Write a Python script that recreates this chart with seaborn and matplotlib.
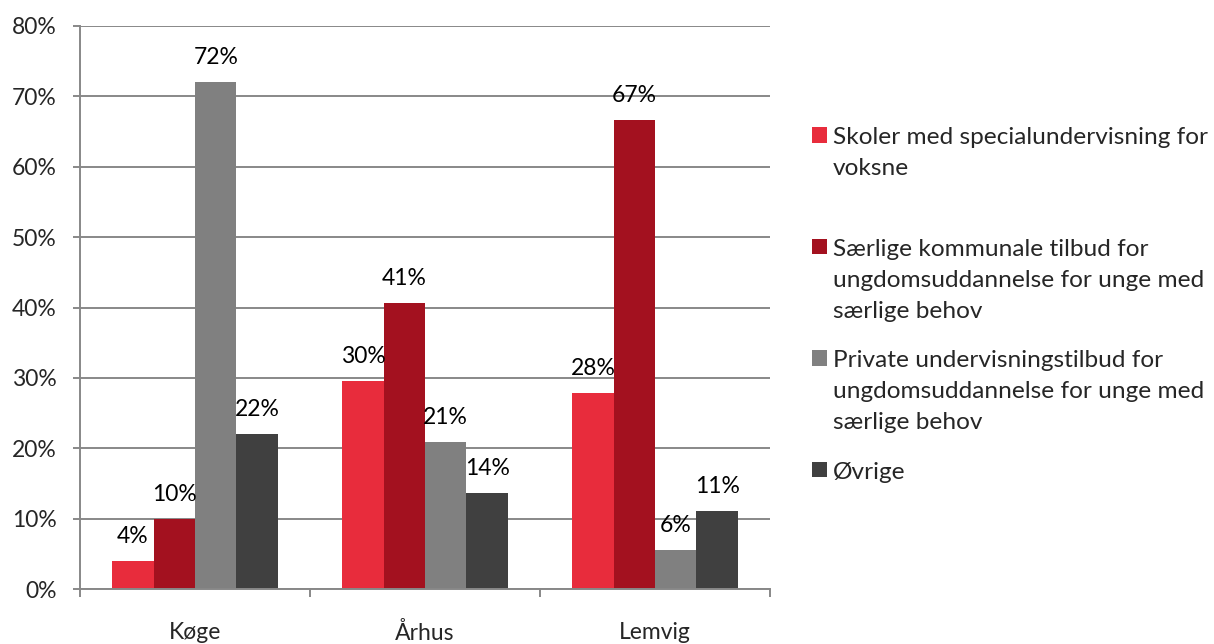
import matplotlib
matplotlib.use("Agg")
import matplotlib.pyplot as plt
import seaborn as sns
import pandas as pd
from matplotlib.patches import Patch

categories = ["Køge", "Århus", "Lemvig"]
series = [
    "Skoler med specialundervisning for voksne",
    "Særlige kommunale tilbud for ungdomsuddannelse for unge med særlige behov",
    "Private undervisningstilbud for ungdomsuddannelse for unge med særlige behov",
    "Øvrige",
]
legend_labels = [
    "Skoler med specialundervisning for\nvoksne\n ",
    "Særlige kommunale tilbud for\nungdomsuddannelse for unge med\nsærlige behov",
    "Private undervisningstilbud for\nungdomsuddannelse for unge med\nsærlige behov",
    "Øvrige",
]
skoler = [4.0, 29.6, 27.8]
kommunale = [10.0, 40.7, 66.7]
private = [72.0, 20.9, 5.6]
oevrige = [22.0, 13.6, 11.1]
colors = ["#E82C3C", "#A3111F", "#808080", "#404040"]
yticks = [0, 10, 20, 30, 40, 50, 60, 70, 80]

values = [skoler, kommunale, private, oevrige]
rows = []
for s, vals in zip(series, values):
    for c, v in zip(categories, vals):
        rows.append({"Kommune": c, "Tilbud": s, "Andel": v})
df = pd.DataFrame(rows)

sns.set_style("white")
plt.rcParams["font.family"] = ["Lato", "DejaVu Sans"]
FS = 16.5
LFS = 17.6
GRID = "#888888"

fig = plt.figure(figsize=(12.14, 6.44), dpi=100)
ax = fig.add_axes([80 / 1214, 1 - 589 / 644, 690 / 1214, 563 / 644])

sns.barplot(data=df, x="Kommune", y="Andel", hue="Tilbud", order=categories,
            hue_order=series, palette=colors, width=0.72, gap=0, ax=ax,
            saturation=1, legend=False, errorbar=None, linewidth=0)

ax.set_xlim(-0.5, 2.5)
ax.set_ylim(0, 80)
ax.set_yticks(yticks)
ax.set_yticklabels([f"{t}%" for t in yticks], fontsize=FS)
ax.grid(axis="y", color=GRID, linewidth=1.4)
ax.set_axisbelow(True)
ax.set_xlabel("")
ax.set_ylabel("")

ax.set_xticks(range(len(categories)))
ax.set_xticklabels(categories, fontsize=FS)
ax.set_xticks([-0.5, 0.5, 1.5, 2.5], minor=True)
ax.tick_params(axis="x", which="major", length=0, pad=24)
ax.tick_params(axis="x", which="minor", length=5.5, width=1.4, color=GRID, direction="out", bottom=True)
ax.tick_params(axis="y", length=5, width=1.4, color=GRID, direction="out", left=True, pad=12)

for side in ["top", "right"]:
    ax.spines[side].set_visible(False)
for side in ["left", "bottom"]:
    ax.spines[side].set_color(GRID)
    ax.spines[side].set_linewidth(1.4)

for cont, vals in zip(ax.containers, values):
    ax.bar_label(cont, labels=[f"{v:.0f}%" for v in vals], padding=10, fontsize=FS, color="black")

handles = [Patch(facecolor=c, edgecolor="none") for c in colors]
leg = fig.legend(handles, legend_labels, loc="upper left", bbox_to_anchor=(812 / 1214, 1 - 127 / 644),
                 frameon=False, fontsize=LFS, handlelength=0.6, handleheight=0.6, handletextpad=0.25,
                 labelspacing=1.15, borderpad=0, borderaxespad=0)
for t in leg.get_texts():
    t.set_linespacing(1.6)
# align each legend square with the first line of its label
for col in leg._legend_handle_box.get_children():
    for hp in col.get_children():
        hp.align = "top"

fig.savefig("out.png", dpi=100)
